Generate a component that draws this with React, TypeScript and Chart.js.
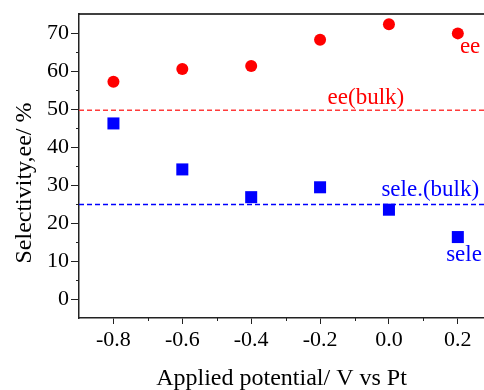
import React, { useEffect, useRef } from "react";
import { Chart, registerables } from "chart.js";

Chart.register(...registerables);

const potentials = [-0.8, -0.6, -0.4, -0.2, 0.0, 0.2];
const eeValues = [57.2, 60.5, 61.3, 68.2, 72.3, 69.9];
const seleValues = [46.2, 34.1, 26.8, 29.4, 23.5, 16.3];
const eeBulk = 49.7;
const seleBulk = 24.9;
const xTickValues = [-0.8, -0.6, -0.4, -0.2, 0.0, 0.2];
const xMinorTicks = [-0.7, -0.5, -0.3, -0.1, 0.1];
const yTickValues = [0, 10, 20, 30, 40, 50, 60, 70];
const yMinorTicks = [5, 15, 25, 35, 45, 55, 65];
const labelTexts = ["ee", "ee(bulk)", "sele.(bulk)", "sele"];
const labelX = [0.206, -0.067, 0.12, 0.218];
const labelY = [66.3, 52.8, 28.6, 11.7];
const labelColors = ["#ff0000", "#ff0000", "#0000ff", "#0000ff"];
const labelAligns = ["left", "center", "center", "center"];
const yTitle = "Selectivity,ee/ %";
const xTitle = "Applied potential/ V vs Pt";

const FONT = "'Liberation Serif', 'Times New Roman', serif";

const decorPlugin = {
  id: "decor",
  beforeDatasetsDraw(chart: any) {
    const { ctx, chartArea, scales } = chart;
    const x = scales.x;
    const y = scales.y;
    ctx.save();
    const lines = [
      { v: eeBulk, c: "#ff3b3b" },
      { v: seleBulk, c: "#0000ff" },
    ];
    ctx.lineWidth = 1.5;
    ctx.setLineDash([5, 3]);
    for (const l of lines) {
      const py = y.getPixelForValue(l.v);
      ctx.strokeStyle = l.c;
      ctx.beginPath();
      ctx.moveTo(chartArea.left, py);
      ctx.lineTo(chartArea.right, py);
      ctx.stroke();
    }
    ctx.setLineDash([]);
    ctx.strokeStyle = "#000";
    ctx.lineWidth = 1.5;
    ctx.beginPath();
    ctx.moveTo(chartArea.left, chartArea.top);
    ctx.lineTo(chartArea.right, chartArea.top);
    ctx.stroke();
    ctx.lineWidth = 1;
    ctx.strokeStyle = "#222";
    for (const v of xMinorTicks) {
      const px = Math.round(x.getPixelForValue(v)) + 0.5;
      ctx.beginPath();
      ctx.moveTo(px, chartArea.bottom);
      ctx.lineTo(px, chartArea.bottom + 3);
      ctx.stroke();
    }
    for (const v of yMinorTicks) {
      const py = Math.round(y.getPixelForValue(v)) + 0.5;
      ctx.beginPath();
      ctx.moveTo(chartArea.left, py);
      ctx.lineTo(chartArea.left - 3, py);
      ctx.stroke();
    }
    ctx.font = `23px ${FONT}`;
    ctx.textBaseline = "middle";
    labelTexts.forEach((t, i) => {
      ctx.fillStyle = labelColors[i];
      ctx.textAlign = labelAligns[i] as CanvasTextAlign;
      ctx.fillText(t, x.getPixelForValue(labelX[i]), y.getPixelForValue(labelY[i]));
    });
    ctx.fillStyle = "#000";
    ctx.font = `24px ${FONT}`;
    ctx.textAlign = "center";
    ctx.textBaseline = "alphabetic";
    ctx.translate(31, 183);
    ctx.rotate(-Math.PI / 2);
    ctx.fillText(yTitle, 0, 0);
    ctx.restore();
  },
};

export default function App() {
  const ref = useRef<HTMLCanvasElement>(null);
  useEffect(() => {
    if (!ref.current) return;
    const chart = new Chart(ref.current, {
      type: "scatter",
      data: {
        datasets: [
          {
            label: "ee",
            data: potentials.map((p, i) => ({ x: p, y: eeValues[i] })),
            pointStyle: "circle",
            pointRadius: 6,
            backgroundColor: "#ff0000",
            borderColor: "#ff0000",
            borderWidth: 0,
          },
          {
            label: "sele",
            data: potentials.map((p, i) => ({ x: p, y: seleValues[i] })),
            pointStyle: "rect",
            pointRadius: 8.5,
            backgroundColor: "#0000ff",
            borderColor: "#0000ff",
            borderWidth: 0,
          },
        ],
      },
      options: {
        responsive: false,
        animation: false,
        layout: { autoPadding: false, padding: { top: 14, right: 0, left: 0, bottom: 0 } },
        plugins: { legend: { display: false }, tooltip: { enabled: false } },
        scales: {
          x: {
            type: "linear",
            min: -0.9,
            max: 0.276,
            afterBuildTicks: (s: any) => {
              s.ticks = xTickValues.map((v) => ({ value: v }));
            },
            afterFit: (s: any) => {
              s.height = 72;
              s.paddingRight = 0;
              s.paddingLeft = 0;
            },
            ticks: {
              font: { family: FONT, size: 22 },
              color: "#000",
              padding: 3,
              maxRotation: 0,
              callback: (v: any) => Number(v).toFixed(1),
            },
            grid: { drawOnChartArea: false, drawTicks: true, tickLength: 6, color: "#222", lineWidth: 1 },
            border: { display: true, color: "#222", width: 1.5 },
            title: {
              display: true,
              text: xTitle,
              font: { family: FONT, size: 24, lineHeight: 1 },
              color: "#000",
              padding: { top: 0, bottom: -1 },
            },
          },
          y: {
            type: "linear",
            min: -5,
            max: 75,
            afterBuildTicks: (s: any) => {
              s.ticks = yTickValues.map((v) => ({ value: v }));
            },
            afterFit: (s: any) => {
              s.width = 79;
              s.paddingTop = 0;
              s.paddingBottom = 0;
            },
            ticks: {
              font: { family: FONT, size: 22 },
              color: "#000",
              padding: 2,
            },
            grid: { drawOnChartArea: false, drawTicks: true, tickLength: 8, color: "#222", lineWidth: 1 },
            border: { display: true, color: "#222", width: 1.5 },
          },
        },
      },
      plugins: [decorPlugin],
    });
    return () => chart.destroy();
  }, []);
  return (
    <div style={{ position: "absolute", left: 0, top: 0, width: 484, height: 390, background: "#fff" }}>
      <canvas ref={ref} width={484} height={390} />
    </div>
  );
}
